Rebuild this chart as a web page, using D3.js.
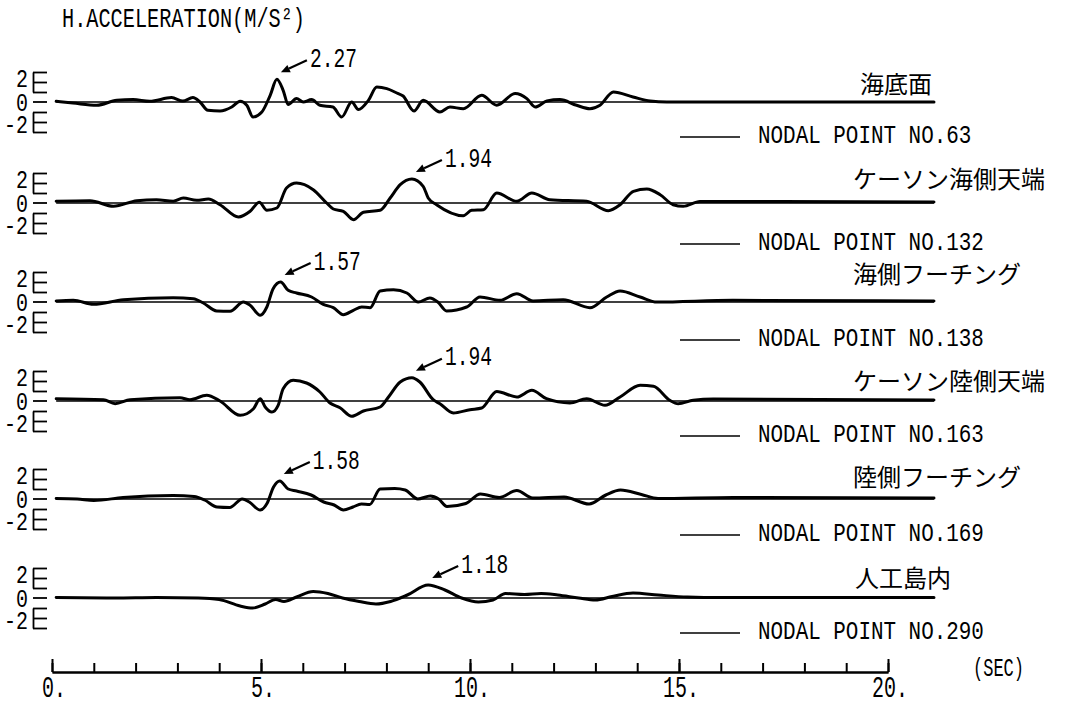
<!DOCTYPE html>
<html><head><meta charset="utf-8">
<script src="https://cdn.jsdelivr.net/npm/d3@7"></script>
<style>body{margin:0;background:#fff}svg{display:block;background:#fff}</style>
</head><body>
<svg id="c" width="1075" height="701"></svg>
<script>
// ---------------- data ----------------
const titleText = "H.ACCELERATION(M/S²)";
const unitText = "(SEC)";
const xTickValues = d3.range(0, 21);
const xMajorValues = [0, 5, 10, 15, 20];
const xTickLabels = ["0.", "5.", "10.", "15.", "20."];
const yTickLabelValues = [2, 0, -2];
const yTickLabels = ["2", "0", "-2"];
const panelNames = ["海底面", "ケーソン海側天端", "海側フーチング", "ケーソン陸側天端", "陸側フーチング", "人工島内"];
const nodalNumbers = [63, 132, 138, 163, 169, 290];
const peakLabels = ["2.27", "1.94", "1.57", "1.94", "1.58", "1.18"];

// time (sec), acceleration (m/s2)
const s63 = [[0.1,0.07],[0.5,-0.1],[1.07,-0.33],[1.55,0.17],[1.94,0.24],[2.34,0.07],[2.86,0.44],[3.13,0.1],[3.37,0.44],[3.54,0],[3.73,-0.83],[4.02,-0.9],[4.3,-0.5],[4.5,0.07],[4.66,-0.33],[4.81,-1.5],[5.02,-1.0],[5.22,0.67],[5.38,2.27],[5.53,1.17],[5.65,-0.26],[5.85,0.34],[6.01,0],[6.21,0.24],[6.41,-0.33],[6.72,-0.5],[6.93,-1.5],[7.17,0],[7.33,-0.76],[7.57,0.17],[7.77,1.5],[8.01,1.34],[8.25,0.9],[8.4,0.6],[8.66,-0.9],[8.88,0.17],[9.28,-1.0],[9.52,-0.5],[9.84,-0.67],[10.28,0.67],[10.64,-0.33],[11.08,0.84],[11.36,0.34],[11.56,-0.5],[11.84,0.1],[12.15,0.24],[12.55,-0.33],[12.87,-0.67],[13.11,-0.33],[13.43,1.0],[13.9,0.5],[14.31,0.1],[14.71,0],[21.1,0]];
const s132 = [[0.1,0.17],[0.91,0.23],[1.47,-0.33],[2.03,0.23],[2.5,0.33],[2.9,0.17],[3.14,0.5],[3.46,0.27],[3.74,0.4],[4.02,-0.17],[4.46,-1.4],[4.74,-0.83],[4.96,0.07],[5.14,-0.73],[5.38,-0.5],[5.61,1.5],[5.85,2.0],[6.25,1.33],[6.57,0],[6.73,-0.6],[6.97,-0.83],[7.21,-1.67],[7.45,-0.93],[7.85,-0.73],[8.09,0.5],[8.33,1.83],[8.61,2.4],[8.88,1.67],[9.0,0.5],[9.2,-0.17],[9.84,-1.27],[10.04,-0.73],[10.32,-0.67],[10.64,1.0],[11.12,0.17],[11.48,1.0],[11.91,0.33],[12.79,0.17],[13.31,-0.77],[13.59,-0.17],[13.91,1.17],[14.23,1.4],[14.55,0.83],[14.86,-0.17],[15.1,-0.33],[15.5,0.15],[21.1,0.1]];
const s138 = [[0.1,0.1],[0.51,0.17],[0.99,-0.23],[1.71,0.23],[2.9,0.43],[3.38,0.33],[3.62,-0.1],[3.94,-0.9],[4.26,-0.93],[4.58,0],[4.74,-0.33],[4.98,-1.33],[5.14,-0.5],[5.29,1.33],[5.47,2.0],[5.65,1.17],[5.85,0.9],[6.21,0.5],[6.49,-0.23],[6.73,-0.57],[6.97,-1.27],[7.21,-0.83],[7.41,-0.5],[7.61,-0.57],[7.85,1.1],[8.17,1.23],[8.49,0.9],[8.76,0],[9.04,0.4],[9.23,0],[9.44,-0.9],[9.92,-0.5],[10.24,0.5],[10.72,0.17],[11.12,0.83],[11.51,0.1],[12.23,0.23],[12.87,-0.57],[13.27,0.5],[13.59,1.1],[14.07,0.5],[14.47,0],[16.29,0.17],[21.1,0.1]];
const s163 = [[0.1,0.23],[1.23,0.13],[1.51,-0.27],[1.87,0.13],[3.06,0.33],[3.3,0.13],[3.7,0.57],[4.02,0],[4.5,-1.43],[4.82,-0.77],[4.98,0.23],[5.1,-0.6],[5.26,-1.1],[5.41,-0.43],[5.53,1.23],[5.77,2.07],[6.09,1.8],[6.41,0.9],[6.65,-0.2],[6.89,-0.67],[7.17,-1.53],[7.45,-1.0],[7.85,-0.6],[8.05,0.4],[8.33,1.9],[8.61,2.33],[8.8,1.9],[9.12,0.13],[9.28,-0.27],[9.6,-1.2],[10.0,-0.87],[10.28,-0.7],[10.64,0.95],[11.12,0.4],[11.48,1.07],[11.83,0.23],[12.39,-0.2],[12.79,0.23],[13.23,-0.43],[13.59,0.4],[14.07,1.57],[14.39,1.47],[14.78,0.07],[14.98,-0.27],[15.34,0.07],[15.82,0.2],[21.1,0.1]];
const s169 = [[0.1,0.05],[0.6,0.0],[1.0,-0.15],[1.7,0.15],[2.9,0.35],[3.4,0.25],[3.65,-0.1],[3.95,-0.8],[4.25,-0.85],[4.55,0],[4.72,-0.3],[4.98,-1.1],[5.15,-0.4],[5.3,1.2],[5.45,1.8],[5.65,1.0],[5.85,0.8],[6.2,0.4],[6.5,-0.3],[6.75,-0.6],[6.97,-1.1],[7.2,-0.8],[7.4,-0.5],[7.6,-0.55],[7.85,1.0],[8.2,1.05],[8.45,0.9],[8.75,0],[9.05,0.3],[9.25,0],[9.45,-0.75],[9.9,-0.45],[10.25,0.5],[10.7,0.15],[11.12,0.85],[11.5,0.1],[12.25,0.2],[12.85,-0.5],[13.25,0.4],[13.6,0.9],[14.1,0.45],[14.5,0.05],[16.3,0.15],[21.1,0.1]];
const s290 = [[0.1,0.05],[1.5,0],[2.5,0.05],[3.5,0],[4.0,-0.15],[4.5,-0.8],[4.8,-1.0],[5.1,-0.6],[5.35,-0.15],[5.55,-0.35],[5.85,0.1],[6.25,0.65],[6.6,0.45],[6.95,0],[7.35,-0.35],[7.75,-0.6],[8.1,-0.35],[8.5,0.3],[9.0,1.3],[9.4,0.8],[9.8,0],[10.2,-0.4],[10.55,-0.2],[10.85,0.45],[11.3,0.35],[11.7,0.45],[12.1,0.3],[12.6,0],[13.0,-0.2],[13.4,0.15],[13.9,0.5],[14.5,0.3],[15.2,0.1],[16.0,0.05],[21.1,0.05]];
const series = [s63, s132, s138, s163, s169, s290];

// ---------------- layout ----------------
const baseY = [102, 203, 302, 401, 499, 598];
const nameX = [860, 853, 853, 853, 853, 855];
const nameDy = [-18, -24, -28, -20, -22, -20];
const nodalDy = [32, 38, 35, 32, 33, 32];
const yLabelShift = [-4, 0, 2];
const unitPx = 10;
const MONO = "'Liberation Mono','DejaVu Sans Mono',monospace";

const svg = d3.select("#c");
const x = d3.scaleLinear().domain([0, 20]).range([52, 888]);

// tall, narrow text: width per char and cap height are given
function mono(g, str, x0, yc, charW, capH, anchor) {
  const len = str.length * charW;
  let sx = x0;
  if (anchor === "end") sx = x0 - len;
  if (anchor === "middle") sx = x0 - len / 2;
  const fs = 18;
  const sy = capH / (0.69 * fs);
  const grp = g.append("g").attr("transform", `translate(${sx},${yc + capH / 2}) scale(1,${sy})`);
  return grp.append("text").attr("x", 0).attr("y", 0)
    .attr("font-family", MONO).attr("font-size", fs)
    .attr("textLength", len).attr("lengthAdjust", "spacingAndGlyphs")
    .attr("fill", "#000").text(str);
}

// title
mono(svg, titleText, 62, 17, 12.15, 19, "start");

// panels
series.forEach((data, i) => {
  const b = baseY[i];
  const y = d3.scaleLinear().domain([-1, 1]).range([b + unitPx, b - unitPx]);
  const g = svg.append("g");

  // y brackets
  const up = d3.scaleLinear().domain([1, 3]).range([y(1), y(3)]);
  const dn = d3.scaleLinear().domain([-3, -1]).range([y(-3), y(-1)]);
  [[up, [1, 2, 3]], [dn, [-3, -2, -1]]].forEach(([s, tv]) => {
    const ax = g.append("g").attr("transform", "translate(33,0)")
      .call(d3.axisRight(s).tickValues(tv).tickSize(14).tickSizeOuter(0).tickFormat(""));
    ax.selectAll("path,line").attr("stroke", "#000").attr("stroke-width", 1.8);
  });
  g.append("line").attr("x1", 33).attr("x2", 47).attr("y1", y(0)).attr("y2", y(0))
    .attr("stroke", "#000").attr("stroke-width", 1.8);
  yTickLabelValues.forEach((v, k) => mono(g, yTickLabels[k], 28, y(v) + yLabelShift[k], 12, 18, "end"));

  // baseline
  g.append("line").attr("x1", x(0.1)).attr("x2", x(21.1)).attr("y1", y(0)).attr("y2", y(0))
    .attr("stroke", "#000").attr("stroke-width", 1.3);

  // curve
  const line = d3.line().x(d => x(d[0])).y(d => y(d[1])).curve(d3.curveMonotoneX);
  g.append("path").datum(data).attr("d", line).attr("fill", "none")
    .attr("stroke", "#000").attr("stroke-width", 3).attr("stroke-linejoin", "round").attr("stroke-linecap", "round");

  // peak annotation
  const pk = d3.greatest(data, d => d[1]);
  const tipX = x(pk[0]) + 4, tipY = y(pk[1]) - 7;
  const tailX = tipX + 26, tailY = tipY - 12;
  const ang = Math.atan2(tipY - tailY, tipX - tailX);
  const ah = 9, aw = 4;
  const bx = tipX - ah * Math.cos(ang), by = tipY - ah * Math.sin(ang);
  g.append("line").attr("x1", tailX).attr("y1", tailY).attr("x2", bx).attr("y2", by)
    .attr("stroke", "#000").attr("stroke-width", 2.2);
  g.append("path").attr("d", d3.line()([
    [tipX, tipY],
    [bx + aw * Math.sin(ang), by - aw * Math.cos(ang)],
    [bx - aw * Math.sin(ang), by + aw * Math.cos(ang)]
  ]) + "Z").attr("fill", "#000");
  mono(g, peakLabels[i], tailX + 3, tailY - 3, 11.75, 19, "start");

  // panel name
  g.append("text").attr("x", nameX[i]).attr("y", b + nameDy[i]).attr("dy", "0.38em")
    .attr("font-family", "'Noto Sans CJK JP'").attr("font-size", 24).attr("font-weight", 400)
    .attr("fill", "#000").text(panelNames[i]);

  // legend
  const ly = b + nodalDy[i];
  g.append("line").attr("x1", 680).attr("x2", 740).attr("y1", ly + 3).attr("y2", ly + 3)
    .attr("stroke", "#000").attr("stroke-width", 1.5);
  mono(g, "NODAL POINT NO." + nodalNumbers[i], 758, ly, 12.55, 18, "start");
});

// x axis
const axY = 672;
const minor = svg.append("g").attr("transform", `translate(0,${axY})`)
  .call(d3.axisTop(x).tickValues(xTickValues).tickSize(9).tickSizeOuter(0).tickFormat(""));
const major = svg.append("g").attr("transform", `translate(0,${axY})`)
  .call(d3.axisTop(x).tickValues(xMajorValues).tickSize(13).tickSizeOuter(0).tickFormat(""));
[minor, major].forEach(a => a.selectAll("path,line").attr("stroke", "#000").attr("stroke-width", 2));
xMajorValues.forEach((v, k) => mono(svg, xTickLabels[k], x(v) + 2, 686, 12, 21, "middle"));
mono(svg, unitText, 973, 667, 10.2, 18, "start");
</script>
</body></html>
